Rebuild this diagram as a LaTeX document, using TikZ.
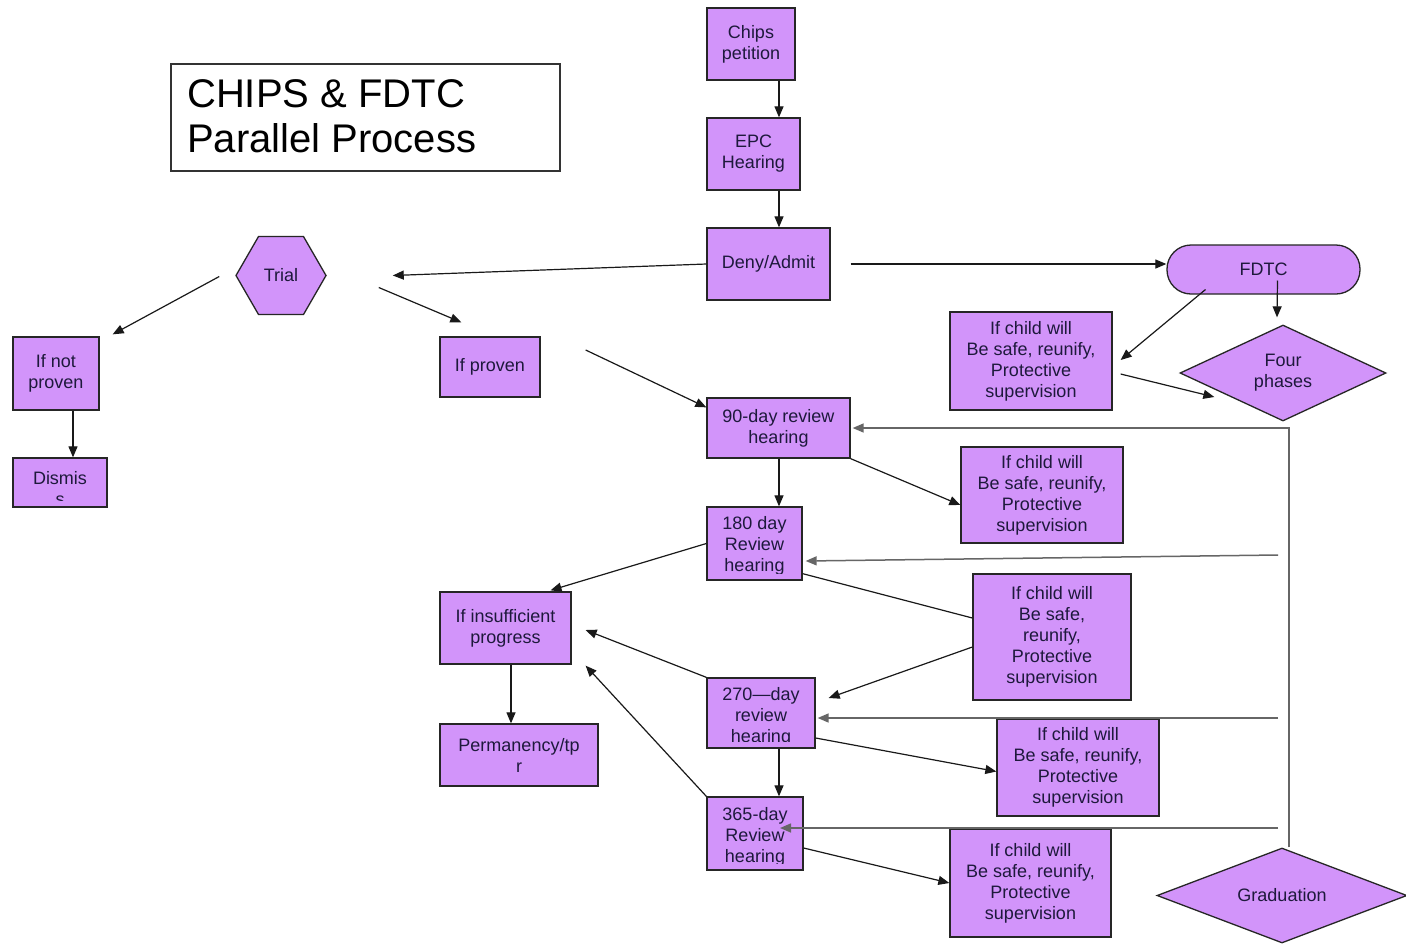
\documentclass[tikz,border=0pt]{standalone}
\usepackage{fontspec}
\setmainfont{Liberation Sans}
\usetikzlibrary{arrows.meta,shapes.geometric,calc}
\definecolor{boxfill}{RGB}{210,148,250}
\definecolor{boxtext}{RGB}{30,25,60}
\tikzset{
  box/.style={draw=black!85, line width=1.3pt, fill=boxfill, text=boxtext,
    font=\fontsize{18}{21}\selectfont, align=center, inner sep=0pt},
  cliptext/.style 2 args={path picture={
    \clip ([yshift=7pt]path picture bounding box.south west) rectangle (path picture bounding box.north east);
    \node[align=center, text=boxtext, font=\fontsize{18}{21}\selectfont, inner sep=0pt]
      at ([yshift=#2]path picture bounding box.center) {#1};}},
  arr/.style={-{Triangle[length=11pt,width=9pt]}, line width=1.2pt, draw=black!90},
  plainline/.style={line width=1.2pt, draw=black!90},
  fbk/.style={-{Triangle[length=11pt,width=9pt]}, line width=1.5pt, draw=black!60},
}
\begin{document}
\begin{tikzpicture}[x=1pt,y=-1pt]
\clip (0,0) rectangle (1406,943);
\fill[white] (0,0) rectangle (1406,943);

% title
\node[draw=black!80, line width=1.2pt, minimum width=389pt, minimum height=107pt, inner sep=0pt] (title) at (365.5,117.5) {};
\node[anchor=west, align=left, inner sep=0pt, font=\fontsize{40}{45}\selectfont] (titletext) at (187,116) {CHIPS \& FDTC\\Parallel Process};

% nodes
\node[box, minimum width=88pt, minimum height=72pt] (chips) at (751,44) {Chips\\petition};
\node[box, minimum width=93pt, minimum height=72pt] (epc) at (753.5,154) {EPC\\Hearing};
\node[box, minimum width=123pt, minimum height=72pt] (deny) at (768.5,264) {Deny/Admit};
\node[box, regular polygon, regular polygon sides=6, minimum size=90pt] (trial) at (281,275.5) {Trial};
\node[box, minimum width=86pt, minimum height=73pt] (ifnot) at (56,373.5) {If not\\proven};
\node[box, minimum width=100pt, minimum height=60pt] (ifproven) at (490,367) {If proven};
\node[box, minimum width=94pt, minimum height=49pt, cliptext={Dismis\\s}{-6pt}] (dismiss) at (60,482.5) {};
\node[box, rounded corners=24pt, minimum width=193pt, minimum height=49pt] (fdtc) at (1263.5,269.5) {FDTC};
\node[box, diamond, aspect=2.15, minimum width=206pt, minimum height=96pt] (four) at (1283,373) {Four\\phases};
\node[box, minimum width=162pt, minimum height=98pt] (box1) at (1031,361) {If child will\\Be safe, reunify,\\Protective\\supervision};
\node[box, minimum width=143pt, minimum height=60pt] (h90) at (778.5,428) {90-day review\\hearing};
\node[box, minimum width=162pt, minimum height=96pt] (box2) at (1042,495) {If child will\\Be safe, reunify,\\Protective\\supervision};
\node[box, minimum width=95pt, minimum height=73pt, cliptext={180 day\\Review\\hearing}{-2.5pt}] (h180) at (754.5,543.5) {};
\node[box, minimum width=158pt, minimum height=126pt] (box3) at (1052,637) {If child will\\Be safe,\\reunify,\\Protective\\supervision};
\node[box, minimum width=131pt, minimum height=72pt] (insuff) at (505.5,628) {If insufficient\\progress};
\node[box, minimum width=158pt, minimum height=62pt] (perm) at (519,755) {Permanency/tp\\r};
\node[box, minimum width=108pt, minimum height=70pt, cliptext={270---day\\review\\hearing}{-4pt}] (h270) at (761,713) {};
\node[box, minimum width=162pt, minimum height=97pt] (box4) at (1078,767.5) {If child will\\Be safe, reunify,\\Protective\\supervision};
\node[box, minimum width=96pt, minimum height=73pt, cliptext={365-day\\Review\\hearing}{-3.5pt}] (h365) at (755,833.5) {};
\node[box, minimum width=161pt, minimum height=108pt] (box5) at (1030.5,883) {If child will\\Be safe, reunify,\\Protective\\supervision};
\node[box, diamond, aspect=2.63, minimum width=250pt, minimum height=95pt] (grad) at (1282,895.5) {Graduation};

% helper coordinates
\coordinate (col) at (779,0);
\coordinate (colA) at (73,0);
\coordinate (colB) at (511,0);
\coordinate (fb) at (1289,428);
\coordinate (f180) at (1278,555);
\coordinate (f270) at (1278,718);
\coordinate (f365) at (1278,828);

% connectors
\draw[arr] (chips.south -| col) -- (epc.north -| col);
\draw[arr] (epc.south -| col) -- (deny.north -| col);
\draw[arr] (deny.west) -- ($(trial.east)+(66,0)$);
\draw[arr] ($(trial.west)+(-16,1)$) -- ($(ifnot.north east)+(13,-2)$);
\draw[arr] ($(trial.east)+(52,12)$) -- ($(ifproven.north west)+(22,-14)$);
\draw[arr] ($(ifproven.east)+(45,-17)$) -- ($(h90.north west)+(0,10)$);
\draw[arr] (ifnot.south -| colA) -- (dismiss.north -| colA);
\draw[arr] ($(deny.east)+(20,0)$) -- (fdtc.west |- deny.east);
\draw[arr] ($(fdtc.center)+(14,11)$) -- ($(four.north)+(-6,-7)$);
\draw[arr] ($(fdtc.center)+(-58,20)$) -- ($(box1.east)+(8,-1)$);
\draw[arr] ($(box1.east)+(8,13)$) -- ($(four.west)+(35,24)$);
\draw[arr] (h90.south east) -- ($(box2.west)+(0,10)$);
\draw[arr] (h90.south -| col) -- (h180.north -| col);
\draw[arr] (h180.west) -- ($(insuff.north)+(45,-1)$);
\draw[plainline] ($(h180.south east)+(0,-7)$) -- ($(box3.west)+(0,-19)$);
\draw[arr] ($(box3.west)+(0,10)$) -- ($(h270.east)+(13,-15)$);
\draw[arr] (h270.north west) -- ($(insuff.east)+(14,2)$);
\draw[arr] (h365.north west) -- ($(insuff.south east)+(14,1)$);
\draw[arr] (insuff.south -| colB) -- (perm.north -| colB);
\draw[arr] (h270.south -| col) -- (h365.north -| col);
\draw[arr] ($(h270.east)+(0,25)$) -- ($(box4.west)+(0,4)$);
\draw[arr] ($(h365.east)+(0,14.5)$) -- (box5.west);

% feedback lines
\draw[fbk] (fb |- grad.north) -- (fb) -- ($(h90.east)+(2,0)$);
\draw[fbk] (f180) -- ($(h180.east)+(3,17.5)$);
\draw[fbk] (f270) -- ($(h270.east)+(2,5)$);
\draw[fbk] (f365) -- ($(h365.center)+(25,-5.5)$);
\end{tikzpicture}
\end{document}
